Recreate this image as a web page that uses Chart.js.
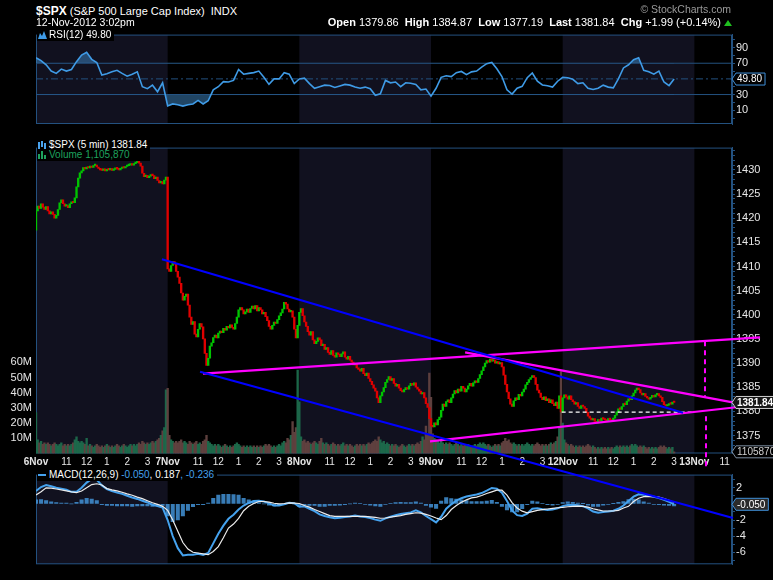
<!DOCTYPE html>
<html>
<head>
<meta charset="utf-8">
<title>$SPX 5 min</title>
<script src="https://cdn.jsdelivr.net/npm/chart.js@4.4.1/dist/chart.umd.min.js"></script>
<style>
  html, body { margin: 0; padding: 0; background: #000; }
  body { position: relative; width: 773px; height: 580px; overflow: hidden;
         font-family: "Liberation Sans", Arial, sans-serif; color: #fff; }
  canvas { position: absolute; left: 0; }
  #rsi { top: 27px; z-index: 1; }
  #macd { top: 467px; z-index: 1; }
  #price { top: 137px; z-index: 2; }
  .t { position: absolute; white-space: pre; line-height: 1; z-index: 3; }
  .leg { background: #000; font-size: 10px; padding: 1px 3px 1px 1px; }
  .leg svg { vertical-align: -1px; margin-right: 2px; }
</style>
</head>
<body>
<div class="t" style="left:36px;top:5px;font-size:11px"><b style="font-size:12px">$SPX</b> (S&amp;P 500 Large Cap Index)  INDX</div>
<div class="t" style="left:36px;top:17px;font-size:10.5px">12-Nov-2012 3:02pm</div>
<div class="t" style="right:52px;top:17px;font-size:11px"><b>Open</b> 1379.86  <b>High</b> 1384.87  <b>Low</b> 1377.19  <b>Last</b> 1381.84  <b>Chg</b> +1.99 (+0.14%)</div>
<div class="t" style="left:724px;top:20px;width:0;height:0;border-left:4px solid transparent;border-right:4px solid transparent;border-bottom:6px solid #1fc01f"></div>
<div class="t" style="right:42px;top:4px;font-size:10.5px;color:#9a9a9a">© StockCharts.com</div>

<div class="t leg" id="rsiLeg" style="left:37px;top:29px"></div>
<div class="t leg" id="priceLeg" style="left:37px;top:139px;line-height:10px"></div>
<div class="t leg" id="macdLeg" style="left:37px;top:469px"></div>

<canvas id="rsi" width="773" height="112"></canvas>
<canvas id="macd" width="773" height="113"></canvas>
<canvas id="price" width="773" height="443"></canvas>

<script>
// sessions (5-min bars, 78 per full day)
const sessions = ['6Nov', '7Nov', '8Nov', '9Nov', '12Nov', '13Nov'];
const sessionStart = [0, 78, 156, 234, 312, 390];
const shadedSessions = [0, 2, 4];
const xMax = 412.3;

const tickBars = [0, 18, 30, 42, 54, 66, 78, 96, 108, 120, 132, 144, 156, 174, 186, 198, 210, 222,
                  234, 252, 264, 276, 288, 300, 312, 330, 342, 354, 366, 378, 390, 408];
const tickLabels = ['6Nov', '11', '12', '1', '2', '3', '7Nov', '11', '12', '1', '2', '3',
                    '8Nov', '11', '12', '1', '2', '3', '9Nov', '11', '12', '1', '2', '3',
                    '12Nov', '11', '12', '1', '2', '3', '13Nov', '11'];

const firstOpen = 1417.5;
const close6Nov = [
  1421.5,1422.5,1422.0,1423.0,1422.3,1421.8,1422.4,1421.5,1420.9,1421.3,1420.8,1420.0,1420.6,
  1421.8,1423.2,1423.8,1423.0,1422.5,1422.6,1422.2,1423.0,1423.4,1423.2,1424.2,1426.5,1428.3,
  1429.4,1429.8,1430.5,1430.2,1430.6,1430.4,1430.8,1430.5,1430.9,1431.0,1430.6,1430.3,1430.0,
  1429.9,1430.2,1429.8,1430.1,1430.0,1430.3,1429.9,1430.1,1430.4,1430.2,1430.0,1430.3,1430.6,
  1430.4,1430.7,1430.9,1431.0,1431.2,1431.0,1431.3,1431.5,1431.8,1431.4,1430.8,1429.3,1428.6,
  1428.9,1428.4,1428.7,1429.0,1428.8,1428.2,1428.5,1427.8,1427.3,1427.6,1427.1,1427.9,1428.5];
const close7Nov = [
  1409.5,1409.0,1410.2,1411.0,1410.5,1409.0,1407.8,1406.5,1404.5,1403.0,1403.8,1404.3,1402.0,
  1399.5,1398.0,1398.6,1396.0,1395.4,1397.0,1398.2,1397.5,1395.0,1392.0,1389.5,1391.0,1393.5,
  1394.2,1395.3,1395.8,1395.2,1396.2,1396.6,1396.3,1397.2,1396.8,1397.6,1397.3,1397.9,1397.4,
  1397.0,1398.2,1399.5,1401.0,1401.5,1401.0,1400.2,1400.6,1401.2,1400.5,1401.3,1401.8,1401.2,
  1401.9,1400.8,1401.5,1401.0,1400.2,1400.5,1399.6,1398.8,1397.6,1397.0,1397.8,1398.5,1398.2,
  1399.0,1399.8,1400.4,1401.2,1402.6,1402.2,1401.2,1400.6,1400.8,1399.5,1397.0,1395.2,1397.8];
const close8Nov = [
  1400.5,1401.3,1399.8,1398.5,1397.6,1396.5,1395.8,1396.5,1394.8,1394.0,1394.5,1395.2,1394.8,
  1393.6,1393.9,1392.8,1393.2,1392.2,1391.8,1392.6,1391.6,1391.2,1392.1,1391.8,1391.3,1391.9,
  1392.3,1391.2,1390.8,1391.4,1390.6,1390.2,1389.6,1389.8,1389.0,1388.7,1388.3,1388.9,1387.8,
  1387.4,1387.9,1386.8,1386.2,1385.5,1384.8,1384.2,1382.8,1381.8,1383.2,1384.0,1384.9,1386.0,
  1386.6,1387.2,1386.4,1386.8,1385.8,1385.2,1385.6,1384.8,1384.3,1384.0,1384.5,1384.9,1384.6,
  1385.3,1385.8,1385.4,1385.9,1385.0,1384.6,1384.2,1383.6,1383.9,1382.8,1381.6,1380.8,1378.5];
const close9Nov = [
  1377.0,1376.8,1377.6,1377.2,1378.3,1378.8,1380.2,1381.5,1381.0,1382.0,1382.4,1381.8,1382.8,
  1383.6,1384.3,1383.8,1384.6,1384.2,1385.2,1384.8,1384.0,1384.6,1385.3,1385.8,1385.2,1385.9,
  1386.3,1386.0,1386.8,1387.6,1388.4,1389.2,1390.0,1390.5,1390.2,1390.8,1390.4,1390.6,1390.0,
  1390.3,1389.8,1390.1,1389.2,1387.5,1385.6,1384.0,1382.6,1381.5,1381.0,1382.2,1382.8,1382.4,
  1383.5,1383.2,1384.0,1384.6,1385.5,1386.0,1386.6,1387.0,1387.4,1387.0,1385.6,1384.4,1383.8,
  1382.9,1382.4,1383.0,1382.2,1382.6,1381.8,1382.4,1381.6,1381.2,1381.9,1380.6,1383.2,1379.9];
const close12Nov = [
  1382.8,1383.4,1383.0,1382.5,1383.2,1382.4,1382.0,1381.5,1381.8,1381.0,1380.6,1381.2,1381.0,
  1380.6,1379.8,1379.0,1378.6,1378.2,1378.5,1377.9,1377.6,1378.3,1378.0,1378.6,1378.4,1378.2,
  1378.0,1378.5,1378.3,1378.0,1378.6,1379.2,1379.9,1380.5,1380.4,1381.0,1381.6,1381.4,1382.1,
  1382.6,1382.4,1383.2,1383.8,1384.4,1384.8,1384.5,1383.8,1383.4,1383.7,1383.1,1382.8,1382.5,
  1382.9,1383.3,1383.0,1383.4,1383.7,1383.2,1382.9,1382.0,1381.4,1381.1,1381.3,1381.6,1381.5,
  1381.9,1381.84];

// volume, millions of shares
const vol6Nov = [
  27,9,7,8,6,7,6,7,6,5,6,7,6, 5,6,7,5,6,5,6,5,6,7,9,11,8, 7,8,7,6,10,5,6,5,4,5,6,5,4,
  5,4,5,6,5,4,5,4,5,6,5,4,5, 6,5,4,5,6,5,6,5,6,7,6,8,7, 6,7,6,7,8,7,8,9,10,12,15,17,42];
const vol7Nov = [
  43,12,9,8,7,8,7,8,9,7,8,7,6, 8,7,6,7,8,6,7,6,8,9,12,8,7, 6,5,6,5,6,5,4,5,6,5,4,5,4,
  5,6,7,6,5,4,5,4,5,4,5,4,5, 4,5,4,5,4,5,6,5,6,5,4,5,4, 5,6,5,7,8,7,10,9,12,21,14,17,55];
const vol8Nov = [
  34,11,8,9,7,8,7,6,7,8,7,6,8, 10,7,6,7,6,5,6,7,6,5,6,5,6, 7,5,6,5,6,5,4,5,6,5,6,5,6,
  5,6,7,6,7,8,9,8,11,9,7,8,6, 7,6,5,6,5,6,5,4,5,6,5,4,5, 6,5,6,5,6,7,6,8,11,9,18,12,53];
const vol9Nov = [
  37,13,10,9,8,7,8,7,6,7,6,7,6, 5,6,7,6,5,6,5,6,5,6,5,4,5, 6,5,6,7,6,7,6,5,6,5,4,5,6,
  5,6,5,7,8,10,8,9,7,6,7,6,5, 6,5,6,5,6,7,6,5,6,5,6,7,6, 5,6,5,6,5,6,7,6,7,8,11,17,54];
const vol12Nov = [
  20,9,7,6,5,6,5,4,5,4,5,4,5, 4,5,6,5,4,5,4,3,4,3,4,3,4, 3,4,3,4,3,4,5,4,5,4,5,4,5,
  4,5,6,5,6,5,4,5,4,5,4,3,4, 3,4,3,4,3,4,5,4,5,4,3,4,3, 4,1.10587];

// indicators, one reading every 3 bars
const indStep = 3;
const rsi12 = [
  77,73.4,68,60,57,62.5,60,62,72,80.5,84,75,71,
  55,56.5,59,61,57,53.5,56,59,40,37.5,42,33.6,45,
  15.5,18,17,15.2,17,18,22.5,18,22,36,40,46.5,46,
  48,62,56,57,58,60,52,43,50,50,58,56,44,
  50,51,44,38,40,42,41.5,39,41,43,42,39.5,38,
  39.5,37.5,29,31,48,45,46,40,45,44.5,43,36,37,
  28,38,52,54,53,58,59.5,55.5,59,60,65,69.5,71,
  63,53,36,30.5,38,40.5,51.5,57.5,47,42.2,41.3,39.5,47,
  52,51.5,49.5,44,45,38,36.5,38,42,39.5,38.5,50,64,
  68,74.5,77,61,59,56,60,46,41.5,49.8];
const macdLine = [
  1.6,2.1,2.35,2.2,2.0,1.9,1.75,1.5,1.5,2.0,2.65,3.1,3.0,
  2.3,1.85,1.6,1.4,1.25,1.02,0.8,0.62,0.4,0.18,-0.1,-0.25,-0.45,
  -2.0,-4.0,-5.5,-6.4,-6.3,-6.3,-6.2,-6.35,-6.1,-4.9,-3.7,-2.7,-1.85,
  -1.35,-0.7,-0.2,0.12,0.35,0.4,0.3,0.07,-0.2,-0.2,-0.05,0.13,0.08,
  -0.35,-0.3,-0.6,-0.9,-1.3,-1.5,-1.65,-1.78,-1.72,-1.63,-1.55,-1.45,-1.55,
  -1.62,-1.75,-1.95,-2.1,-1.8,-1.6,-1.4,-1.25,-1.15,-1.05,-0.8,-1.05,-1.5,
  -1.9,-2.3,-1.6,-0.6,-0.05,0.4,0.7,0.92,1.05,1.18,1.35,1.65,1.98,
  1.88,1.4,0.35,-0.8,-1.4,-1.5,-1.2,-0.6,-0.55,-0.67,-0.76,-0.7,-0.55,
  -0.27,-0.12,-0.1,-0.15,-0.28,-0.55,-0.95,-1.1,-1.0,-0.95,-0.85,-0.6,-0.2,
  0.35,0.9,1.2,1.15,1.0,0.88,0.74,0.5,0.25,-0.05];
const macdSignal = [
  1.1,1.5,2.0,1.95,1.85,1.75,1.62,1.5,1.4,1.6,2.0,2.4,2.5,
  2.35,1.9,1.75,1.62,1.45,1.25,1.08,0.85,0.65,0.4,0.15,-0.05,-0.3,
  -0.8,-2.0,-3.4,-4.8,-5.6,-6.0,-6.1,-6.2,-6.3,-5.9,-5.3,-4.2,-3.0,
  -2.5,-1.8,-0.85,-0.3,0.05,0.3,0.3,0.23,0.08,0.0,0.05,0.13,0.1,
  0.05,-0.2,-0.4,-0.7,-0.95,-1.2,-1.45,-1.55,-1.55,-1.55,-1.55,-1.55,-1.55,
  -1.55,-1.6,-1.68,-1.78,-1.75,-1.65,-1.55,-1.45,-1.3,-1.2,-1.1,-1.15,-1.3,
  -1.5,-1.75,-1.95,-1.45,-0.7,-0.2,0.2,0.5,0.75,0.85,1.05,1.3,1.5,
  1.7,1.7,1.1,0.15,-0.5,-0.9,-1.1,-0.95,-0.8,-0.7,-0.63,-0.55,-0.48,
  -0.44,-0.35,-0.3,-0.27,-0.3,-0.4,-0.6,-0.75,-0.88,-0.88,-0.88,-0.8,-0.5,
  -0.3,0.3,0.7,0.91,0.93,0.91,0.85,0.65,0.45,0.187];
const macdHist = [
  0.5,0.55,0.4,0.25,0.15,0.1,0.1,0.0,0.2,0.5,0.7,0.6,0.4,
  -0.1,-0.2,-0.2,-0.25,-0.25,-0.25,-0.3,-0.25,-0.25,-0.25,-0.3,-0.25,-0.2,
  -1.5,-2.2,-2.0,-1.5,-0.8,-0.35,-0.1,-0.1,0.1,0.7,1.1,1.2,1.2,
  1.15,1.1,0.7,0.5,0.35,0.15,0.0,-0.15,-0.25,-0.2,-0.1,0.05,0.0,
  -0.3,-0.1,-0.2,-0.2,-0.3,-0.3,-0.2,-0.2,-0.15,-0.08,0.0,0.1,0.05,
  -0.05,-0.15,-0.25,-0.3,-0.05,0.05,0.15,0.2,0.15,0.15,0.25,0.1,-0.2,
  -0.4,-0.55,0.35,0.8,0.65,0.6,0.5,0.4,0.3,0.3,0.3,0.35,0.45,
  0.2,-0.3,-0.75,-1.0,-1.0,-0.6,-0.1,0.35,0.25,0.05,-0.1,-0.15,-0.05,
  0.15,0.25,0.2,0.1,0.02,-0.15,-0.3,-0.3,-0.15,-0.05,0.03,0.2,0.3,
  0.55,0.6,0.5,0.25,0.1,-0.05,-0.1,-0.15,-0.2,-0.236];

// axis ticks
const priceTicks = [1375, 1380, 1385, 1390, 1395, 1400, 1405, 1410, 1415, 1420, 1425, 1430];
const volTicks = [10, 20, 30, 40, 50, 60];
const rsiTicks = [10, 30, 70, 90];
const rsiLevels = [30, 50, 70];
const macdTicks = [-6, -4, -2, 2];

// hand-drawn annotations, [bar, price] end points
const blueLines = [
  [[74.6, 1411.5], [383.3, 1379.7]],
  [[97.2, 1388.2], [412.9, 1357.9]]];
const magentaLines = [
  [[98.9, 1387.8], [428.9, 1395.3]],
  [[254.2, 1392.2], [413.5, 1381.8]],
  [[233.4, 1373.8], [418.8, 1381.0]]];
const closeRef = [[311.4, 1379.85], [389.4, 1379.85]];
const targetMarks = [
  [[396.3, 1394.5], [396.3, 1383.0]],
  [[396.9, 1379.0], [396.9, 1368.5]]];

// ---------------------------------------------------------------
const fontFam = '"Liberation Sans", Arial, sans-serif';
Chart.defaults.font.family = fontFam;
Chart.defaults.color = '#e6e6e6';
const frameColor = '#23517f';
const bandColor = '#11111f';
const rsiColor = '#3f9be6';

const closes = [].concat(close6Nov, close7Nov, close8Nov, close9Nov, close12Nov);
const volumes = [].concat(vol6Nov, vol7Nov, vol8Nov, vol9Nov, vol12Nov);
const opens = closes.map((c, i) => i === 0 ? firstOpen : closes[i - 1]);
const up = closes.map((c, i) => c >= opens[i]);
const asPts = arr => arr.map((v, k) => ({ x: k * indStep, y: v }));
const seg = pts => pts.map(p => ({ x: p[0], y: p[1] }));

const panelPlugin = {
  id: 'panel',
  beforeDatasetsDraw(chart) {
    const { ctx, chartArea: a, scales: { x } } = chart;
    ctx.save();
    ctx.beginPath();
    ctx.rect(a.left, a.top, a.width, a.height);
    ctx.clip();
    ctx.fillStyle = bandColor;
    shadedSessions.forEach(d => {
      const x0 = x.getPixelForValue(sessionStart[d]);
      const x1 = x.getPixelForValue(sessionStart[d + 1]);
      ctx.fillRect(x0, a.top, x1 - x0, a.height);
    });
    ctx.restore();
    ctx.save();
    ctx.strokeStyle = frameColor;
    ctx.lineWidth = 1;
    ctx.strokeRect(a.left + 0.5, a.top + 0.5, a.width - 1, a.height - 1);
    ctx.restore();
  }
};

function tagPlugin(items) {
  return {
    id: 'tags',
    afterDraw(chart) {
      const { ctx, chartArea: a } = chart;
      items.forEach(t => {
        const y = chart.scales[t.axis].getPixelForValue(t.value);
        ctx.save();
        ctx.font = (t.bold ? 'bold ' : '') + '10px ' + fontFam;
        const w = ctx.measureText(t.text).width;
        const x = a.right;
        ctx.beginPath();
        ctx.moveTo(x, y);
        ctx.lineTo(x + 4, y - 6);
        ctx.lineTo(x + 8 + w, y - 6);
        ctx.lineTo(x + 8 + w, y + 6);
        ctx.lineTo(x + 4, y + 6);
        ctx.closePath();
        ctx.fillStyle = t.fill;
        ctx.fill();
        ctx.strokeStyle = t.stroke;
        ctx.lineWidth = 1;
        ctx.stroke();
        ctx.fillStyle = t.color;
        ctx.textBaseline = 'middle';
        ctx.fillText(t.text, x + 5, y + 0.5);
        ctx.restore();
      });
    }
  };
}

function xScale(show) {
  return {
    type: 'linear', min: 0, max: xMax, display: show, offset: false,
    grid: { display: false, drawTicks: false, offset: false },
    border: { display: false },
    afterBuildTicks: s => { s.ticks = tickBars.map(v => ({ value: v })); },
    afterFit: s => { s.height = 14; },
    ticks: {
      autoSkip: false, maxRotation: 0, padding: 3, color: '#e6e6e6',
      font: c => ({ size: 10, weight: /Nov/.test(tickLabels[c.index]) ? 'bold' : 'normal' }),
      callback: (v, i) => tickLabels[i]
    }
  };
}

function rightAxis(min, max, minor, labels) {
  return {
    type: 'linear', position: 'right', min, max,
    afterBuildTicks: s => { s.ticks = minor.map(v => ({ value: v })); },
    afterFit: s => { s.width = 41; },
    grid: { drawOnChartArea: false, drawTicks: true, tickLength: 3, color: frameColor },
    border: { display: true, color: frameColor },
    ticks: { autoSkip: false, padding: 1, color: '#e6e6e6', font: { size: 11 },
             callback: v => labels.includes(v) ? String(v) : '' }
  };
}

function range(a, b, step) {
  const out = [];
  for (let v = a; v <= b; v += step) out.push(v);
  return out;
}

const common = {
  responsive: false, maintainAspectRatio: false, animation: false, events: [],
  plugins: { legend: { display: false }, tooltip: { enabled: false } }
};

// ---------------- RSI ----------------
const rsiPts = asPts(rsi12);
const rsiFill = 'rgba(58,125,182,0.55)';
new Chart(document.getElementById('rsi'), {
  type: 'line',
  data: { datasets: [
    ...rsiLevels.map(v => ({
      data: [{ x: 0, y: v }, { x: xMax, y: v }], borderColor: frameColor, borderWidth: 1,
      borderDash: v === 50 ? [7, 3, 2, 3] : [], pointRadius: 0, order: 5
    })),
    { data: rsiPts, borderColor: 'rgba(0,0,0,0)', borderWidth: 0, pointRadius: 0, order: 3,
      fill: { target: { value: 30 }, above: 'rgba(0,0,0,0)', below: rsiFill } },
    { data: rsiPts, borderColor: rsiColor, borderWidth: 1.6, pointRadius: 0, order: 1,
      fill: { target: { value: 70 }, above: rsiFill, below: 'rgba(0,0,0,0)' } }
  ] },
  options: {
    ...common,
    layout: { padding: { left: 36, top: 1, bottom: 1, right: 0 } },
    scales: { x: xScale(false), y: rightAxis(-7.66, 106.6, range(0, 100, 10), rsiTicks) }
  },
  plugins: [panelPlugin, tagPlugin([
    { axis: 'y', value: rsi12[rsi12.length - 1], text: rsi12[rsi12.length - 1].toFixed(2),
      fill: '#000', stroke: '#3f8fd8', color: '#fff' }])]
});

// ---------------- Price + volume ----------------
const lineSet = (pts, color, width, dash) => ({
  type: 'line', data: seg(pts), borderColor: color, borderWidth: width, borderDash: dash || [],
  pointRadius: 0, clip: false, yAxisID: 'y', order: 0
});
const lastVol = volumes[volumes.length - 1];
new Chart(document.getElementById('price'), {
  type: 'bar',
  data: { datasets: [
    { type: 'bar', yAxisID: 'y', order: 2, grouped: false, barThickness: 1.7, minBarLength: 1.5,
      data: closes.map((c, i) => ({ x: i, y: [opens[i], c] })),
      backgroundColor: up.map(u => u ? '#00c400' : '#e00000') },
    { type: 'bar', yAxisID: 'vol', order: 3, grouped: false, barThickness: 1.7,
      data: volumes.map((v, i) => ({ x: i, y: v })),
      backgroundColor: up.map(u => u ? 'rgba(30,108,76,0.95)' : 'rgba(98,66,64,0.95)') },
    ...blueLines.map(p => lineSet(p, '#0000ff', 2.2)),
    ...magentaLines.map(p => lineSet(p, '#ff00ff', 2.2)),
    lineSet(closeRef, '#ffffff', 1.2, [4, 3]),
    ...targetMarks.map(p => lineSet(p, '#ff00ff', 2, [5, 4]))
  ] },
  options: {
    ...common,
    layout: { padding: { left: 0, right: 0, top: 1, bottom: 112.5 } },
    scales: {
      x: xScale(true),
      y: rightAxis(1371.27, 1434.62, range(1372, 1434, 1), priceTicks),
      vol: {
        type: 'linear', position: 'left', min: 0, max: 201.6,
        afterBuildTicks: s => { s.ticks = volTicks.map(v => ({ value: v })); },
        afterFit: s => { s.width = 36; },
        grid: { display: false, drawTicks: false }, border: { display: false },
        ticks: { autoSkip: false, padding: 4, color: '#e6e6e6', font: { size: 11 }, callback: v => v + 'M' }
      }
    }
  },
  plugins: [panelPlugin, tagPlugin([
    { axis: 'vol', value: lastVol, text: String(Math.round(lastVol * 1e6)),
      fill: '#000', stroke: '#7d8ea0', color: '#d0d0d0' },
    { axis: 'y', value: closes[closes.length - 1], text: closes[closes.length - 1].toFixed(2), bold: true,
      fill: '#161616', stroke: '#cfcfcf', color: '#fff' }])]
});

// ---------------- MACD ----------------
new Chart(document.getElementById('macd'), {
  type: 'bar',
  data: { datasets: [
    { type: 'bar', order: 2, grouped: false, barThickness: 3.4,
      data: asPts(macdHist), backgroundColor: 'rgba(66,146,214,0.85)' },
    { type: 'line', order: 1, data: asPts(macdLine), borderColor: '#45a2ee', borderWidth: 2, pointRadius: 0 },
    { type: 'line', order: 0, data: asPts(macdSignal), borderColor: '#ececec', borderWidth: 1.2, pointRadius: 0 }
  ] },
  options: {
    ...common,
    layout: { padding: { left: 36, top: 1, bottom: 1.7, right: 0 } },
    scales: { x: xScale(false), y: rightAxis(-7.5, 3.64, range(-7, 3, 1), macdTicks) }
  },
  plugins: [panelPlugin, tagPlugin([
    { axis: 'y', value: macdLine[macdLine.length - 1], text: macdLine[macdLine.length - 1].toFixed(3),
      fill: '#2b2b2b', stroke: '#3f8fd8', color: '#fff' }])]
});

// ---------------- legends ----------------
document.getElementById('rsiLeg').innerHTML =
  '<svg width="9" height="8"><path d="M0 8 L2 2 L4 5 L6 0 L9 8 Z" fill="' + rsiColor + '"/></svg>' +
  'RSI(12) ' + rsi12[rsi12.length - 1].toFixed(2);
document.getElementById('priceLeg').innerHTML =
  '<svg width="9" height="8"><path d="M1 1v7M4 0v6M7 2v6" stroke="#4aa3ee" stroke-width="2"/></svg>' +
  '$SPX (5 min) ' + closes[closes.length - 1].toFixed(2) + '\n' +
  '<span style="color:#1ea25e"><svg width="9" height="8"><path d="M1 3v5M4 0v8M7 4v4" stroke="#1ea25e" stroke-width="2"/></svg>' +
  'Volume ' + Math.round(lastVol * 1e6).toLocaleString('en-US') + '</span>';
document.getElementById('macdLeg').innerHTML =
  '<svg width="9" height="8"><path d="M0 4h8" stroke="#45a2ee" stroke-width="2"/></svg>' +
  'MACD(12,26,9) <span style="color:#45a2ee">' + macdLine[macdLine.length - 1].toFixed(3) + '</span>, ' +
  macdSignal[macdSignal.length - 1].toFixed(3) +
  '<span style="color:#45a2ee">, ' + macdHist[macdHist.length - 1].toFixed(3) + '</span>';
</script>
</body>
</html>
